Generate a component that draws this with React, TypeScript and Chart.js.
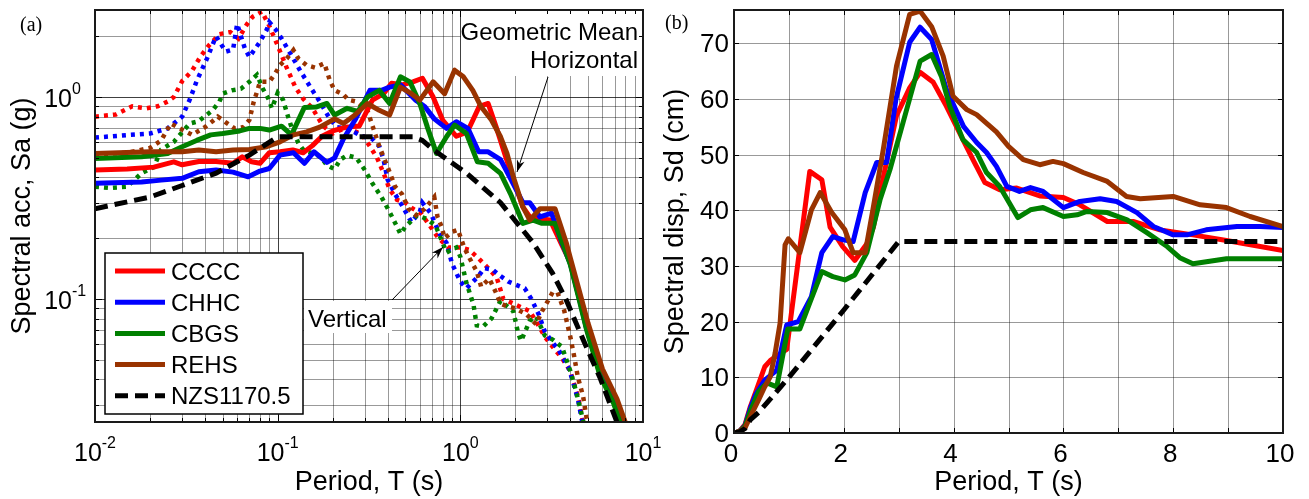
import React, { useEffect, useRef } from "react";
import { Chart, registerables } from "chart.js";

Chart.register(...registerables);

type Pt = [number, number];

// ---------------- Panel (a): Sa (g) vs period T (s), log-log ----------------
const saHorizCCCC: Pt[] = [
  [0.01, 0.435], [0.015, 0.44], [0.021, 0.45], [0.027, 0.478], [0.03, 0.462], [0.037, 0.48],
  [0.046, 0.48], [0.057, 0.47], [0.064, 0.506], [0.072, 0.478], [0.08, 0.47], [0.09, 0.53],
  [0.103, 0.536], [0.121, 0.547], [0.138, 0.53], [0.155, 0.575], [0.175, 0.64], [0.2, 0.68],
  [0.238, 0.71], [0.28, 0.72], [0.33, 0.966], [0.38, 1.04], [0.42, 1.17], [0.48, 1.15],
  [0.55, 1.19], [0.62, 1.24], [0.71, 1.0], [0.8, 0.77], [0.95, 0.64], [1.09, 0.67], [1.27, 0.9],
  [1.42, 0.93], [1.58, 0.7], [1.76, 0.516], [1.95, 0.39], [2.2, 0.286], [2.4, 0.255],
  [2.73, 0.25], [3.1, 0.246], [3.6, 0.185], [4.0, 0.152], [4.5, 0.1], [4.9, 0.073],
  [5.8, 0.043], [6.9, 0.031], [7.6, 0.0245], [8.5, 0.019],
];
const saHorizCHHC: Pt[] = [
  [0.01, 0.374], [0.018, 0.38], [0.023, 0.388], [0.03, 0.396], [0.037, 0.427], [0.046, 0.435],
  [0.057, 0.425], [0.069, 0.403], [0.08, 0.43], [0.09, 0.443], [0.103, 0.516], [0.122, 0.53],
  [0.14, 0.47], [0.158, 0.536], [0.186, 0.475], [0.205, 0.5], [0.229, 0.62], [0.265, 0.77],
  [0.32, 1.08], [0.37, 1.08], [0.41, 1.12], [0.47, 1.15], [0.57, 0.966], [0.64, 0.895],
  [0.72, 0.78], [0.84, 0.7], [0.95, 0.755], [1.1, 0.7], [1.26, 0.536], [1.42, 0.536],
  [1.66, 0.49], [1.88, 0.396], [2.2, 0.3], [2.4, 0.3], [2.73, 0.255], [3.16, 0.266],
  [3.6, 0.19], [4.0, 0.15], [4.5, 0.099], [4.9, 0.072], [5.8, 0.043], [6.9, 0.031],
  [7.6, 0.0245], [8.5, 0.019],
];
const saHorizCBGS: Pt[] = [
  [0.01, 0.497], [0.018, 0.506], [0.025, 0.526], [0.03, 0.568], [0.036, 0.61], [0.043, 0.65],
  [0.05, 0.66], [0.062, 0.68], [0.07, 0.7], [0.08, 0.7], [0.09, 0.687], [0.105, 0.718],
  [0.119, 0.65], [0.14, 0.889], [0.162, 0.892], [0.186, 0.93], [0.205, 0.815], [0.24, 0.88],
  [0.275, 0.85], [0.31, 1.0], [0.36, 1.08], [0.41, 0.93], [0.47, 1.26], [0.53, 1.19],
  [0.6, 0.93], [0.66, 0.71], [0.74, 0.526], [0.84, 0.636], [0.93, 0.727], [1.08, 0.66],
  [1.24, 0.478], [1.42, 0.47], [1.66, 0.419], [1.88, 0.333], [2.2, 0.237], [2.5, 0.246],
  [2.8, 0.237], [3.3, 0.237], [3.7, 0.18], [4.0, 0.148], [4.5, 0.097], [4.9, 0.071],
  [5.8, 0.042], [6.9, 0.0305], [7.5, 0.0245], [8.5, 0.018],
];
const saHorizREHS: Pt[] = [
  [0.01, 0.526], [0.02, 0.536], [0.03, 0.536], [0.037, 0.547], [0.046, 0.536], [0.057, 0.547],
  [0.07, 0.55], [0.087, 0.568], [0.103, 0.6], [0.122, 0.65], [0.144, 0.673], [0.17, 0.71],
  [0.205, 0.78], [0.229, 0.74], [0.265, 0.815], [0.31, 0.93], [0.36, 0.86], [0.41, 0.815],
  [0.47, 1.12], [0.54, 1.04], [0.6, 0.966], [0.71, 1.19], [0.82, 1.04], [0.93, 1.36],
  [1.04, 1.26], [1.17, 1.08], [1.3, 0.895], [1.48, 0.77], [1.66, 0.636], [1.8, 0.526],
  [1.95, 0.403], [2.2, 0.286], [2.4, 0.246], [2.73, 0.28], [3.3, 0.28], [3.8, 0.19],
  [4.0, 0.16], [4.5, 0.108], [5.0, 0.076], [6.0, 0.045], [7.2, 0.032], [8.0, 0.0245], [9.0, 0.019],
];
const saVertCCCC: Pt[] = [
  [0.01, 0.8], [0.013, 0.82], [0.016, 0.9], [0.019, 0.88], [0.022, 0.9], [0.025, 0.95],
  [0.027, 1.0], [0.03, 1.2], [0.034, 1.35], [0.038, 1.6], [0.042, 1.8], [0.048, 2.05],
  [0.055, 2.1], [0.061, 1.95], [0.068, 2.3], [0.073, 2.5], [0.082, 2.65], [0.09, 2.25],
  [0.1, 1.8], [0.112, 1.4], [0.125, 1.12], [0.138, 0.98], [0.155, 0.88], [0.177, 0.72],
  [0.2, 0.66], [0.24, 0.71], [0.29, 0.65], [0.32, 0.57], [0.35, 0.5], [0.38, 0.42],
  [0.41, 0.35], [0.45, 0.31], [0.5, 0.3], [0.55, 0.28], [0.61, 0.265], [0.66, 0.24],
  [0.76, 0.2], [0.86, 0.18], [1.0, 0.18], [1.12, 0.175], [1.25, 0.16], [1.4, 0.144],
  [1.58, 0.128], [1.72, 0.1], [2.0, 0.094], [2.4, 0.087], [2.7, 0.073], [2.9, 0.065],
  [3.3, 0.056], [3.6, 0.051], [4.0, 0.044], [4.2, 0.038], [4.4, 0.033], [4.6, 0.027], [4.8, 0.022],
];
const saVertCHHC: Pt[] = [
  [0.01, 0.63], [0.0155, 0.65], [0.02, 0.66], [0.025, 0.7], [0.03, 0.8], [0.033, 0.97],
  [0.036, 1.2], [0.041, 1.55], [0.046, 2.0], [0.052, 1.68], [0.057, 1.72], [0.06, 2.3],
  [0.066, 1.75], [0.07, 1.58], [0.08, 1.88], [0.087, 2.15], [0.09, 2.35], [0.098, 2.15],
  [0.105, 1.95], [0.117, 1.65], [0.133, 1.35], [0.153, 1.1], [0.17, 0.95], [0.19, 0.8],
  [0.21, 0.71], [0.24, 0.7], [0.29, 0.64], [0.33, 0.62], [0.36, 0.57], [0.38, 0.49],
  [0.4, 0.39], [0.44, 0.33], [0.48, 0.29], [0.54, 0.24], [0.6, 0.27], [0.62, 0.3],
  [0.69, 0.265], [0.77, 0.21], [0.84, 0.19], [0.9, 0.15], [1.0, 0.122], [1.08, 0.113],
  [1.25, 0.129], [1.35, 0.142], [1.5, 0.14], [1.66, 0.13], [1.83, 0.122], [2.0, 0.118],
  [2.25, 0.113], [2.45, 0.1], [2.7, 0.083], [2.9, 0.069], [3.15, 0.062], [3.45, 0.056],
  [3.9, 0.046], [4.1, 0.04], [4.4, 0.032], [4.6, 0.026], [4.8, 0.021],
];
const saVertCBGS: Pt[] = [
  [0.01, 0.36], [0.012, 0.355], [0.015, 0.36], [0.018, 0.42], [0.021, 0.45], [0.023, 0.55],
  [0.027, 0.6], [0.033, 0.74], [0.037, 0.76], [0.044, 0.86], [0.048, 0.95], [0.05, 1.04],
  [0.056, 1.08], [0.063, 1.1], [0.07, 1.19], [0.077, 1.29], [0.083, 1.1], [0.089, 0.98],
  [0.093, 0.88], [0.1, 1.05], [0.107, 0.97], [0.114, 0.8], [0.119, 0.71], [0.13, 0.59],
  [0.14, 0.54], [0.16, 0.525], [0.174, 0.5], [0.186, 0.46], [0.205, 0.44], [0.22, 0.49],
  [0.24, 0.515], [0.27, 0.5], [0.3, 0.435], [0.33, 0.374], [0.37, 0.32], [0.41, 0.27],
  [0.45, 0.228], [0.47, 0.21], [0.5, 0.228], [0.58, 0.26], [0.65, 0.25], [0.73, 0.232],
  [0.8, 0.19], [0.84, 0.17], [0.95, 0.18], [1.0, 0.162], [1.08, 0.12], [1.18, 0.094],
  [1.23, 0.074], [1.33, 0.073], [1.48, 0.08], [1.66, 0.098], [1.95, 0.087], [2.07, 0.068],
  [2.15, 0.062], [2.4, 0.078], [2.6, 0.082], [2.9, 0.066], [3.2, 0.063], [3.6, 0.058],
  [4.0, 0.044], [4.3, 0.035], [4.7, 0.025], [4.9, 0.021],
];
const saVertREHS: Pt[] = [
  [0.01, 0.52], [0.015, 0.53], [0.02, 0.56], [0.023, 0.61], [0.026, 0.74], [0.03, 0.69],
  [0.034, 0.65], [0.04, 0.71], [0.044, 0.76], [0.047, 0.8], [0.052, 0.75], [0.058, 0.7],
  [0.065, 0.71], [0.07, 0.77], [0.074, 0.95], [0.077, 1.06], [0.08, 1.19], [0.09, 1.19],
  [0.097, 1.31], [0.103, 1.44], [0.112, 1.55], [0.122, 1.71], [0.13, 1.55], [0.144, 1.44],
  [0.16, 1.4], [0.18, 1.47], [0.193, 1.21], [0.205, 1.08], [0.229, 1.03], [0.244, 0.97],
  [0.27, 0.95], [0.31, 0.86], [0.36, 0.57], [0.4, 0.45], [0.44, 0.36], [0.48, 0.33],
  [0.52, 0.28], [0.57, 0.26], [0.64, 0.28], [0.72, 0.32], [0.75, 0.255], [0.79, 0.228],
  [0.82, 0.2], [0.9, 0.215], [0.97, 0.22], [1.05, 0.18], [1.12, 0.16], [1.23, 0.137],
  [1.3, 0.115], [1.44, 0.126], [1.55, 0.11], [1.66, 0.095], [1.8, 0.092], [2.0, 0.09],
  [2.3, 0.084], [2.6, 0.075], [2.8, 0.087], [3.0, 0.097], [3.2, 0.108], [3.4, 0.108],
  [3.7, 0.088], [4.0, 0.065], [4.2, 0.052], [4.4, 0.041], [4.7, 0.033], [4.9, 0.026], [5.1, 0.022],
];
const saNZS: Pt[] = [
  [0.01, 0.28], [0.02, 0.32], [0.03, 0.365], [0.046, 0.42], [0.07, 0.516], [0.1, 0.636],
  [0.2, 0.636], [0.3, 0.636], [0.4, 0.636], [0.55, 0.636], [0.62, 0.61], [0.71, 0.55],
  [1.08, 0.42], [1.66, 0.3], [2.5, 0.19], [3.2, 0.134], [3.8, 0.099], [4.7, 0.063],
  [5.8, 0.041], [7.2, 0.0246], [8.0, 0.02],
];

// ---------------- Panel (b): Sd (cm) vs period T (s) ----------------
const sdCCCC: Pt[] = [
  [0, 0], [0.1, 0.3], [0.2, 1.5], [0.29, 4.5], [0.4, 7.5], [0.56, 11.9], [0.66, 13], [0.8, 14],
  [0.96, 15], [1.38, 47], [1.6, 45.5], [1.75, 37], [1.98, 33.5], [2.2, 31], [2.42, 34],
  [2.54, 37], [2.72, 46], [2.96, 57], [3.2, 62], [3.39, 64.8], [3.63, 63], [3.87, 58.7],
  [4.17, 52.7], [4.36, 49], [4.57, 45], [4.84, 43.7], [5.15, 44], [5.57, 42.6], [6.0, 42.3],
  [6.3, 41], [6.8, 38], [7.27, 38], [7.76, 36.5], [8.36, 35.6], [8.97, 34.6], [10, 32.8],
];
const sdCHHC: Pt[] = [
  [0, 0], [0.1, 0.3], [0.2, 1.3], [0.3, 4.5], [0.4, 7], [0.56, 9.5], [0.78, 11.3], [0.96, 19.4],
  [1.17, 20], [1.41, 24.5], [1.6, 32.4], [1.8, 35.3], [1.99, 34.7], [2.17, 34.4], [2.39, 43.2],
  [2.6, 48.6], [2.78, 48.6], [2.95, 60], [3.2, 70.2], [3.39, 72.9], [3.6, 70.7], [3.87, 61.7],
  [4.18, 55.1], [4.42, 52.2], [4.6, 50.4], [4.78, 47.9], [4.97, 44.3], [5.2, 43.4], [5.4, 44.1],
  [5.63, 43.4], [6.0, 40.5], [6.3, 41.6], [6.67, 42.1], [6.97, 41.6], [7.34, 39.6], [7.64, 37.1],
  [8.0, 35.6], [8.25, 35.6], [8.6, 36.5], [9.16, 37.1], [9.58, 37.1], [10, 36.9],
];
const sdCBGS: Pt[] = [
  [0, 0], [0.1, 0.3], [0.2, 1.2], [0.3, 4.0], [0.45, 7.5], [0.6, 9], [0.78, 8.3], [0.98, 18.7],
  [1.2, 18.7], [1.38, 23.4], [1.6, 29], [1.8, 28.1], [2.02, 27.5], [2.2, 28.4], [2.42, 32.4],
  [2.66, 41.9], [2.84, 47.3], [3.08, 55.8], [3.39, 66.8], [3.6, 68], [3.78, 64], [3.93, 58.7],
  [4.17, 52.7], [4.42, 50.4], [4.6, 46.8], [4.84, 44.3], [5.17, 38.7], [5.4, 40.1], [5.63, 40.5],
  [6.0, 38.9], [6.25, 39.2], [6.43, 39.8], [6.8, 39.6], [7.16, 38.3], [7.52, 36], [7.89, 33.5],
  [8.12, 31.5], [8.36, 30.4], [8.97, 31.3], [10, 31.3],
];
const sdREHS: Pt[] = [
  [0, 0], [0.1, 0.3], [0.2, 0.9], [0.3, 3.0], [0.45, 6], [0.56, 8.3], [0.66, 10.1], [0.75, 14.4],
  [0.84, 19.8], [0.93, 33.8], [0.99, 34.9], [1.2, 32.4], [1.41, 40.1], [1.57, 43.2], [1.78, 39.6],
  [2.02, 36.5], [2.17, 32.4], [2.39, 32.4], [2.53, 40.1], [2.72, 51], [2.96, 65.9], [3.2, 75.2],
  [3.39, 75.8], [3.6, 73], [3.81, 67.7], [3.99, 60.5], [4.24, 58.1], [4.42, 57.2], [4.78, 54.1],
  [5.0, 51.5], [5.27, 49.1], [5.57, 48.2], [5.81, 48.8], [6.0, 48.4], [6.36, 46.8], [6.8, 45.2],
  [7.15, 42.5], [7.4, 42.1], [8.0, 42.5], [8.49, 41], [8.97, 40.5], [9.4, 38.9], [10, 37.1],
];
const sdNZS: Pt[] = [
  [0, 0], [0.1, 0.2], [0.2, 0.8], [0.3, 2.4], [0.45, 3.7], [1, 10], [2, 22.1], [3, 34.4], [10, 34.4],
];

const seriesNames = ["CCCC", "CHHC", "CBGS", "REHS"];
const codeName = "NZS1170.5";
const seriesColors = ["#ff0000", "#0000ff", "#008000", "#993300"];

// axis ticks / grid
const periodLabelsA = [0.01, 0.1, 1, 10];
const saLabelsA = [0.1, 1];
const decadesA = [0.001, 0.01, 0.1, 1, 10];
const periodLabelsB = [0, 2, 4, 6, 8, 10];
const periodGridB = [0, 1, 2, 3, 4, 5, 6, 7, 8, 9, 10];
const sdGridB = [0, 10, 20, 30, 40, 50, 60, 70];

const FONT = '"Liberation Sans", Arial, Helvetica, sans-serif';
const SERIF = '"Liberation Serif", "Times New Roman", serif';
const MAJOR = "rgba(0,0,0,0.75)";
const MINOR = "rgba(0,0,0,0.4)";
const H = 499;
const W_A = 665;
const LEFT_B = 655;
const W_B = 654;

const xy = (p: Pt[]) => p.map(([x, y]) => ({ x, y }));

function solidDs(label: string, data: Pt[], color: string, order: number) {
  return { label, data: xy(data), borderColor: color, backgroundColor: color, borderWidth: 5,
    pointRadius: 0, tension: 0, fill: false, order, borderJoinStyle: "round", borderCapStyle: "butt" };
}
function dottedDs(label: string, data: Pt[], color: string, order: number) {
  return { ...solidDs(label, data, color, order), borderWidth: 4.5, borderDash: [4, 5], borderJoinStyle: "miter" };
}
function dashedDs(label: string, data: Pt[], order: number) {
  return { ...solidDs(label, data, "#000000", order), borderDash: [13, 7], borderJoinStyle: "miter" };
}

function seg(ctx: CanvasRenderingContext2D, x1: number, y1: number, x2: number, y2: number) {
  ctx.beginPath(); ctx.moveTo(x1, y1); ctx.lineTo(x2, y2); ctx.stroke();
}
function arrow(ctx: CanvasRenderingContext2D, x1: number, y1: number, x2: number, y2: number) {
  ctx.save();
  ctx.strokeStyle = "#000"; ctx.fillStyle = "#000"; ctx.lineWidth = 1;
  seg(ctx, x1, y1, x2, y2);
  const a = Math.atan2(y2 - y1, x2 - x1);
  const L = 12, w = 4;
  ctx.beginPath();
  ctx.moveTo(x2, y2);
  ctx.lineTo(x2 - L * Math.cos(a) + w * Math.sin(a), y2 - L * Math.sin(a) - w * Math.cos(a));
  ctx.lineTo(x2 - 0.7 * L * Math.cos(a), y2 - 0.7 * L * Math.sin(a));
  ctx.lineTo(x2 - L * Math.cos(a) - w * Math.sin(a), y2 - L * Math.sin(a) + w * Math.cos(a));
  ctx.closePath(); ctx.fill();
  ctx.restore();
}
function pow10(ctx: CanvasRenderingContext2D, exp: string, x: number, base: number, mode: "center" | "right10") {
  ctx.font = `25px ${FONT}`;
  const wb = ctx.measureText("10").width;
  ctx.font = `16px ${FONT}`;
  const ws = ctx.measureText(exp).width;
  const left = mode === "center" ? x - (wb + ws) / 2 : x - wb;
  ctx.textAlign = "left"; ctx.textBaseline = "alphabetic";
  ctx.font = `25px ${FONT}`;
  ctx.fillText("10", left, base);
  ctx.font = `16px ${FONT}`;
  ctx.fillText(exp, left + wb, base - 13);
}

function logGrid(min: number, max: number) {
  const out: { v: number; major: boolean }[] = [];
  for (const d of decadesA)
    for (let k = 1; k <= 9; k++) {
      const v = d * k;
      if (v >= min * 0.999 && v <= max * 1.001) out.push({ v, major: k === 1 });
    }
  return out;
}

const pluginA = {
  id: "panelA",
  beforeDatasetsDraw(chart: any) {
    const { ctx, chartArea: a } = chart;
    const xs = chart.scales.x, ys = chart.scales.y;
    ctx.save();
    ctx.lineWidth = 1;
    for (const g of logGrid(xs.min, xs.max)) {
      const px = Math.round(xs.getPixelForValue(g.v)) + 0.5;
      ctx.strokeStyle = g.major ? MAJOR : MINOR;
      seg(ctx, px, a.top, px, a.bottom);
    }
    for (const g of logGrid(ys.min, ys.max)) {
      const py = Math.round(ys.getPixelForValue(g.v)) + 0.5;
      ctx.strokeStyle = g.major ? MAJOR : MINOR;
      seg(ctx, a.left, py, a.right, py);
    }
    // annotation backgrounds and text
    ctx.fillStyle = "#fff";
    ctx.fillRect(461, 11, 181, 65);
    ctx.fillRect(304, 301, 88, 32);
    ctx.fillStyle = "#000";
    ctx.font = `24px ${FONT}`;
    ctx.textBaseline = "alphabetic";
    ctx.textAlign = "right";
    ctx.fillText("Geometric Mean", 638, 40);
    ctx.fillText("Horizontal", 638, 68);
    ctx.textAlign = "left";
    ctx.fillText("Vertical", 308, 327);
    ctx.restore();
  },
  afterDatasetsDraw(chart: any) {
    const { ctx, chartArea: a } = chart;
    const xs = chart.scales.x, ys = chart.scales.y;
    ctx.save();
    // ticks
    ctx.strokeStyle = "#000"; ctx.lineWidth = 1;
    for (const g of logGrid(xs.min, xs.max)) {
      const px = Math.round(xs.getPixelForValue(g.v)) + 0.5;
      const L = g.major ? 7 : 4;
      seg(ctx, px, a.bottom, px, a.bottom - L);
      seg(ctx, px, a.top, px, a.top + L);
    }
    for (const g of logGrid(ys.min, ys.max)) {
      const py = Math.round(ys.getPixelForValue(g.v)) + 0.5;
      const L = g.major ? 7 : 4;
      seg(ctx, a.left, py, a.left + L, py);
      seg(ctx, a.right, py, a.right - L, py);
    }
    // box
    ctx.lineWidth = 2; ctx.strokeStyle = "#1a1a1a";
    ctx.strokeRect(a.left, a.top, a.right - a.left, a.bottom - a.top);
    // tick labels
    ctx.fillStyle = "#000";
    for (const v of periodLabelsA) pow10(ctx, String(Math.round(Math.log10(v))), xs.getPixelForValue(v), 461, "center");
    for (const v of saLabelsA) pow10(ctx, String(Math.round(Math.log10(v))), 72, ys.getPixelForValue(v) + 10, "right10");
    // titles
    ctx.font = `27px ${FONT}`;
    ctx.textAlign = "center"; ctx.textBaseline = "alphabetic";
    ctx.fillText("Period, T (s)", (a.left + a.right) / 2, 490);
    ctx.save();
    ctx.translate(23, (a.top + a.bottom) / 2);
    ctx.rotate(-Math.PI / 2);
    ctx.textBaseline = "middle";
    ctx.fillText("Spectral acc, Sa (g)", 0, 0);
    ctx.restore();
    ctx.font = `20px ${SERIF}`;
    ctx.textAlign = "left"; ctx.textBaseline = "alphabetic";
    ctx.fillText("(a)", 20, 31);
    // arrows
    arrow(ctx, 548, 77, 517, 172);
    arrow(ctx, 392, 300, 443, 247);
    // legend
    ctx.fillStyle = "#fff";
    ctx.fillRect(105, 253, 198, 161);
    ctx.lineWidth = 1.5; ctx.strokeStyle = "#000";
    ctx.strokeRect(105, 253, 198, 161);
    const labels = seriesNames.concat([codeName]);
    labels.forEach((name, i) => {
      const ry = 271 + i * 31.2;
      ctx.save();
      ctx.lineWidth = 5;
      ctx.strokeStyle = i < 4 ? seriesColors[i] : "#000";
      if (i === 4) ctx.setLineDash([13, 7]);
      seg(ctx, 115, ry, 165, ry);
      ctx.restore();
      ctx.fillStyle = "#000";
      ctx.font = `24px ${FONT}`;
      ctx.textAlign = "left"; ctx.textBaseline = "alphabetic";
      ctx.fillText(name, 171, ry + 8.6);
    });
    ctx.restore();
  },
};

const pluginB = {
  id: "panelB",
  beforeDatasetsDraw(chart: any) {
    const { ctx, chartArea: a } = chart;
    const xs = chart.scales.x, ys = chart.scales.y;
    ctx.save();
    ctx.lineWidth = 1; ctx.strokeStyle = MINOR;
    for (const v of periodGridB) {
      const px = Math.round(xs.getPixelForValue(v)) + 0.5;
      seg(ctx, px, a.top, px, a.bottom);
    }
    for (const v of sdGridB) {
      const py = Math.round(ys.getPixelForValue(v)) + 0.5;
      seg(ctx, a.left, py, a.right, py);
    }
    ctx.restore();
  },
  afterDatasetsDraw(chart: any) {
    const { ctx, chartArea: a } = chart;
    const xs = chart.scales.x, ys = chart.scales.y;
    ctx.save();
    ctx.strokeStyle = "#000"; ctx.lineWidth = 1;
    for (const v of periodGridB) {
      const px = Math.round(xs.getPixelForValue(v)) + 0.5;
      seg(ctx, px, a.bottom, px, a.bottom - 5);
      seg(ctx, px, a.top, px, a.top + 5);
    }
    for (const v of sdGridB) {
      const py = Math.round(ys.getPixelForValue(v)) + 0.5;
      seg(ctx, a.left, py, a.left + 5, py);
      seg(ctx, a.right, py, a.right - 5, py);
    }
    ctx.lineWidth = 2; ctx.strokeStyle = "#1a1a1a";
    ctx.strokeRect(a.left, a.top, a.right - a.left, a.bottom - a.top);
    ctx.fillStyle = "#000";
    ctx.font = `26px ${FONT}`;
    ctx.textBaseline = "alphabetic";
    ctx.textAlign = "center";
    for (const v of periodLabelsB) ctx.fillText(String(v), xs.getPixelForValue(v) - 3, 462);
    ctx.textAlign = "right";
    for (const v of sdGridB) ctx.fillText(String(v), a.left - 5, ys.getPixelForValue(v) + 9);
    ctx.font = `27px ${FONT}`;
    ctx.textAlign = "center";
    ctx.fillText("Period, T (s)", (a.left + a.right) / 2, 490);
    ctx.save();
    ctx.translate(21, (a.top + a.bottom) / 2);
    ctx.rotate(-Math.PI / 2);
    ctx.textBaseline = "middle";
    ctx.fillText("Spectral disp, Sd (cm)", 0, 0);
    ctx.restore();
    ctx.font = `20px ${SERIF}`;
    ctx.textAlign = "left"; ctx.textBaseline = "alphabetic";
    ctx.fillText("(b)", 10, 29);
    ctx.restore();
  },
};

function configA(): any {
  const horiz = [saHorizCCCC, saHorizCHHC, saHorizCBGS, saHorizREHS];
  const vert = [saVertCCCC, saVertCHHC, saVertCBGS, saVertREHS];
  const datasets: any[] = [dashedDs(codeName, saNZS, 0)];
  horiz.forEach((d, i) => datasets.push(solidDs(seriesNames[i] + " H", d, seriesColors[i], 4 - i)));
  vert.forEach((d, i) => datasets.push(dottedDs(seriesNames[i] + " V", d, seriesColors[i], 9 - i)));
  return {
    type: "line",
    data: { datasets },
    options: {
      animation: false, responsive: false, devicePixelRatio: 1, events: [],
      layout: { padding: { left: 95, top: 10, right: W_A - 643, bottom: H - 422 } },
      scales: {
        x: { type: "logarithmic", min: 0.01, max: 10, display: false },
        y: { type: "logarithmic", min: 0.0246, max: 2.7, display: false },
      },
      plugins: { legend: { display: false }, tooltip: { enabled: false } },
    },
    plugins: [pluginA],
  };
}

function configB(): any {
  const sd = [sdCCCC, sdCHHC, sdCBGS, sdREHS];
  const datasets: any[] = [dashedDs(codeName, sdNZS, 0)];
  sd.forEach((d, i) => datasets.push(solidDs(seriesNames[i], d, seriesColors[i], 4 - i)));
  return {
    type: "line",
    data: { datasets },
    options: {
      animation: false, responsive: false, devicePixelRatio: 1, events: [],
      layout: { padding: { left: 734 - LEFT_B, top: 10, right: LEFT_B + W_B - 1283, bottom: H - 433 } },
      scales: {
        x: { type: "linear", min: 0, max: 10, display: false },
        y: { type: "linear", min: 0, max: 76, display: false },
      },
      plugins: { legend: { display: false }, tooltip: { enabled: false } },
    },
    plugins: [pluginB],
  };
}

function Panel({ make, left, width }: { make: () => any; left: number; width: number }) {
  const ref = useRef<HTMLCanvasElement>(null);
  useEffect(() => {
    const chart = new Chart(ref.current as HTMLCanvasElement, make());
    return () => chart.destroy();
  }, []);
  return (
    <canvas ref={ref} width={width} height={H}
      style={{ position: "absolute", left, top: 0, width, height: H }} />
  );
}

export default function App() {
  return (
    <div style={{ position: "fixed", left: 0, top: 0, width: 1309, height: H, background: "#fff", overflow: "hidden" }}>
      <Panel make={configA} left={0} width={W_A} />
      <Panel make={configB} left={LEFT_B} width={W_B} />
    </div>
  );
}
